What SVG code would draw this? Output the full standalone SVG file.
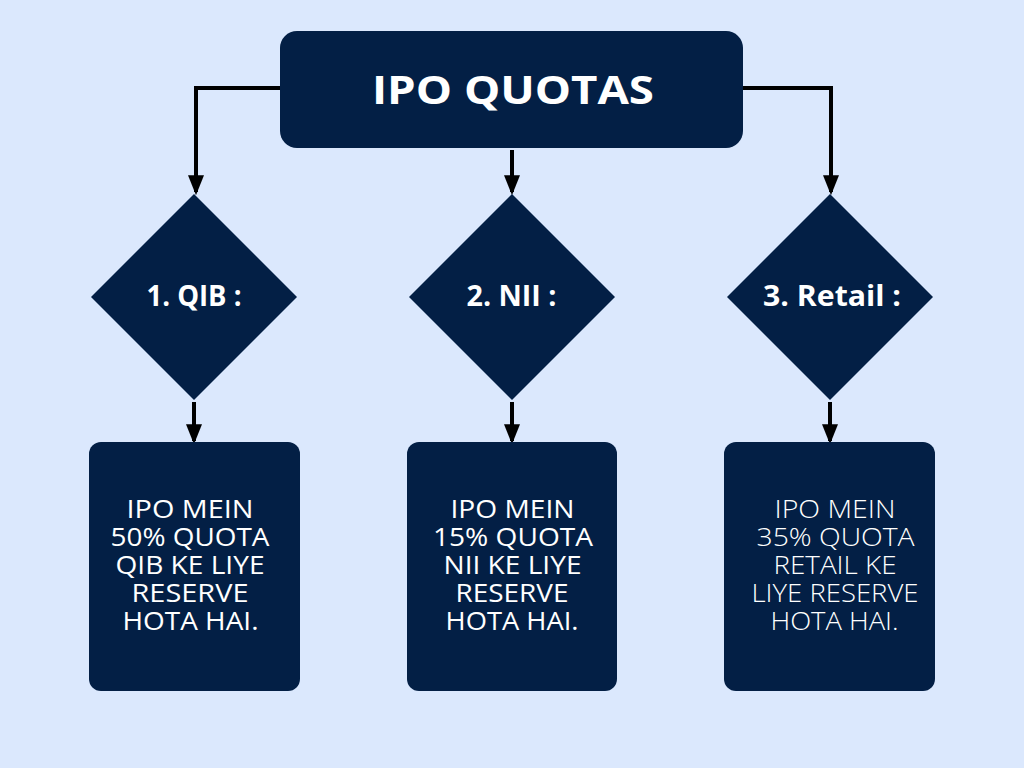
<svg xmlns="http://www.w3.org/2000/svg" width="1024" height="768" viewBox="0 0 1024 768">
<style>
.n{fill:#031f45}
.t{font-family:"Open Sans",sans-serif;fill:#fff;text-anchor:middle}
.h{font-size:40px;font-weight:700}
.d{font-size:28px;font-weight:700}
.b{font-size:25px}
.l{font-weight:300}
.c{fill:none;stroke:#000;stroke-width:4;stroke-linejoin:miter}
</style>
<defs>
<marker id="ah" markerWidth="5" markerHeight="4" refX="4.2" refY="2" orient="auto" markerUnits="strokeWidth">
<path d="M0,0 L5,2 L0,4 Z" fill="#000"/>
</marker>
</defs>
<rect width="1024" height="768" fill="#dbe8fd"/>
<g id="connectors">
<path class="c" d="M282,88 H196 V192" marker-end="url(#ah)"/>
<path class="c" d="M741,88 H831 V192" marker-end="url(#ah)"/>
<path class="c" d="M512,150 V192" marker-end="url(#ah)"/>
<path class="c" d="M194,402 V441" marker-end="url(#ah)"/>
<path class="c" d="M512,402 V441" marker-end="url(#ah)"/>
<path class="c" d="M830,402 V441" marker-end="url(#ah)"/>
</g>
<g id="header">
<rect class="n" x="280" y="31" width="463" height="117" rx="17"/>
<text class="t h" x="513" y="104" textLength="282" lengthAdjust="spacingAndGlyphs">IPO QUOTAS</text>
</g>
<g id="qib">
<polygon class="n" points="194,194 297,297 194,400 91,297"/>
<text class="t d" x="194" y="306" textLength="95" lengthAdjust="spacingAndGlyphs">1. QIB :</text>
</g>
<g id="nii">
<polygon class="n" points="512,194 615,297 512,400 409,297"/>
<text class="t d" x="511.5" y="306" textLength="90" lengthAdjust="spacingAndGlyphs">2. NII :</text>
</g>
<g id="retail">
<polygon class="n" points="830,194 933,297 830,400 727,297"/>
<text class="t d" x="832" y="306" textLength="138" lengthAdjust="spacingAndGlyphs">3. Retail :</text>
</g>
<g id="qib-box">
<rect class="n" x="89" y="442" width="211" height="249" rx="12"/>
<text class="t b" x="190" y="518" textLength="127" lengthAdjust="spacingAndGlyphs">IPO MEIN</text>
<text class="t b" x="190" y="546" textLength="159" lengthAdjust="spacingAndGlyphs">50% QUOTA</text>
<text class="t b" x="190" y="574" textLength="149" lengthAdjust="spacingAndGlyphs">QIB KE LIYE</text>
<text class="t b" x="190" y="602" textLength="117" lengthAdjust="spacingAndGlyphs">RESERVE</text>
<text class="t b" x="190.5" y="630" textLength="136" lengthAdjust="spacingAndGlyphs">HOTA HAI.</text>
</g>
<g id="nii-box">
<rect class="n" x="407" y="442" width="210" height="249" rx="12"/>
<text class="t b" x="512.5" y="518" textLength="124" lengthAdjust="spacingAndGlyphs">IPO MEIN</text>
<text class="t b" x="513" y="546" textLength="160" lengthAdjust="spacingAndGlyphs">15% QUOTA</text>
<text class="t b" x="512.5" y="574" textLength="138" lengthAdjust="spacingAndGlyphs">NII KE LIYE</text>
<text class="t b" x="512" y="602" textLength="113" lengthAdjust="spacingAndGlyphs">RESERVE</text>
<text class="t b" x="512" y="630" textLength="133" lengthAdjust="spacingAndGlyphs">HOTA HAI.</text>
</g>
<g id="retail-box">
<rect class="n" x="724" y="442" width="211" height="249" rx="12"/>
<text class="t b l" x="835" y="518" textLength="121" lengthAdjust="spacingAndGlyphs">IPO MEIN</text>
<text class="t b l" x="835.5" y="546" textLength="158" lengthAdjust="spacingAndGlyphs">35% QUOTA</text>
<text class="t b l" x="835" y="574" textLength="123" lengthAdjust="spacingAndGlyphs">RETAIL KE</text>
<text class="t b l" x="835" y="602" textLength="167" lengthAdjust="spacingAndGlyphs">LIYE RESERVE</text>
<text class="t b l" x="834.5" y="630" textLength="128" lengthAdjust="spacingAndGlyphs">HOTA HAI.</text>
</g>
</svg>
